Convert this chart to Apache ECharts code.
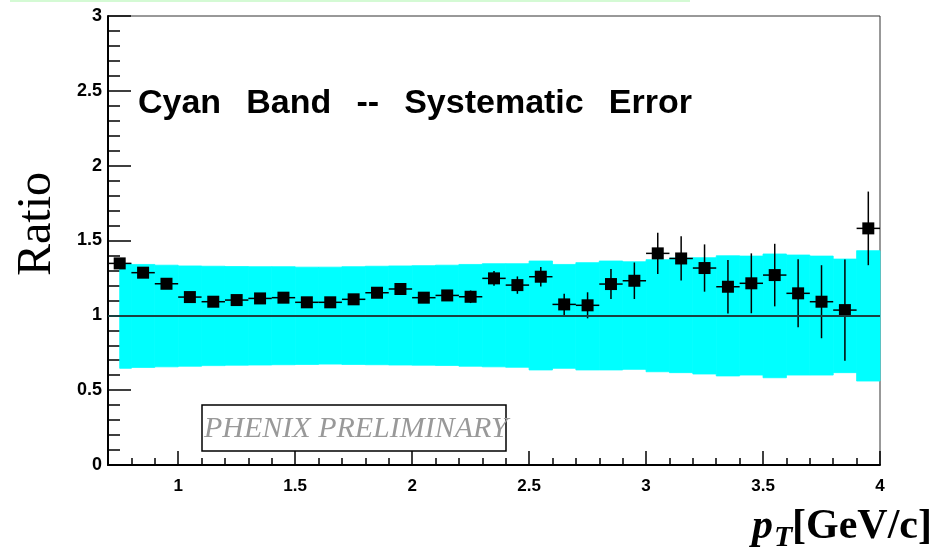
<!DOCTYPE html>
<html>
<head>
<meta charset="utf-8">
<script src="https://cdn.jsdelivr.net/npm/echarts@6/dist/echarts.min.js"></script>
<style>
  html, body { margin: 0; padding: 0; background: #ffffff; }
  #chart { width: 945px; height: 550px; }
</style>
</head>
<body>
<div id="chart"></div>
<script>
// Measured ratio per pT bin (bin centres, GeV/c)
const ptCenters = [0.75, 0.85, 0.95, 1.05, 1.15, 1.25, 1.35, 1.45, 1.55, 1.65, 1.75,
                   1.85, 1.95, 2.05, 2.15, 2.25, 2.35, 2.45, 2.55, 2.65, 2.75, 2.85,
                   2.95, 3.05, 3.15, 3.25, 3.35, 3.45, 3.55, 3.65, 3.75, 3.85, 3.95];
const ratioValues = [1.347, 1.285, 1.211, 1.122, 1.091, 1.102, 1.113, 1.118, 1.087, 1.087, 1.107,
                     1.151, 1.176, 1.118, 1.133, 1.124, 1.247, 1.202, 1.258, 1.073, 1.067, 1.209,
                     1.231, 1.414, 1.380, 1.316, 1.191, 1.214, 1.269, 1.147, 1.091, 1.035, 1.581];
// Statistical errors (vertical bars)
const ratioErrors = [0.020, 0.020, 0.020, 0.020, 0.020, 0.020, 0.020, 0.020, 0.020, 0.020, 0.022,
                     0.024, 0.026, 0.028, 0.032, 0.042, 0.050, 0.058, 0.065, 0.071, 0.087, 0.100,
                     0.122, 0.137, 0.148, 0.158, 0.178, 0.200, 0.209, 0.227, 0.244, 0.338, 0.246];
const binHalfWidth = 0.05;

// Systematic error band: one step per bin between consecutive edges
const bandEdges = [0.75, 0.8, 0.9, 1.0, 1.1, 1.2, 1.3, 1.4, 1.5, 1.6, 1.7, 1.8, 1.9, 2.0,
                   2.1, 2.2, 2.3, 2.4, 2.5, 2.6, 2.7, 2.8, 2.9, 3.0, 3.1, 3.2, 3.3, 3.4,
                   3.5, 3.6, 3.7, 3.8, 3.9, 4.0];
const bandHigh = [1.345, 1.340, 1.335, 1.330, 1.328, 1.326, 1.325, 1.325, 1.322, 1.322, 1.325,
                  1.328, 1.330, 1.332, 1.335, 1.340, 1.345, 1.345, 1.363, 1.340, 1.352, 1.363,
                  1.358, 1.372, 1.383, 1.385, 1.398, 1.396, 1.410, 1.403, 1.396, 1.376, 1.432];
const bandLow  = [0.646, 0.652, 0.656, 0.660, 0.664, 0.667, 0.668, 0.670, 0.672, 0.674, 0.672,
                  0.670, 0.668, 0.667, 0.665, 0.660, 0.656, 0.653, 0.635, 0.646, 0.635, 0.635,
                  0.639, 0.623, 0.617, 0.608, 0.595, 0.601, 0.583, 0.601, 0.601, 0.617, 0.561];

const referenceLevel = 1;

// Axis ticks
const xMajorTicks = [1, 1.5, 2, 2.5, 3, 3.5, 4];
const xMinorTicks = [0.8, 0.9, 1.1, 1.2, 1.3, 1.4, 1.6, 1.7, 1.8, 1.9, 2.1, 2.2, 2.3, 2.4,
                     2.6, 2.7, 2.8, 2.9, 3.1, 3.2, 3.3, 3.4, 3.6, 3.7, 3.8, 3.9];
const xRange = [0.7, 4];
const yRange = [0, 3];
const yInterval = 0.5;

// Caption words, laid out with a wide, even gap between them
const captionWords = ['Cyan', 'Band', '--', 'Systematic', 'Error'];
const captionFont = 'bold 34px "Liberation Sans", Arial, sans-serif';
const captionLeft = 138, captionRight = 692;

const bandData = bandHigh.map((h, i) => [bandEdges[i], bandEdges[i + 1], h, bandLow[i]]);
const errData = ptCenters.map((x, i) => [x, ratioValues[i], ratioErrors[i]]);
const pointData = ptCenters.map((x, i) => [x, ratioValues[i]]);

function layoutCaption() {
  const ctx = document.createElement('canvas').getContext('2d');
  ctx.font = captionFont;
  const widths = captionWords.map(w => ctx.measureText(w).width);
  const total = widths.reduce((a, b) => a + b, 0);
  const gap = (captionRight - captionLeft - total) / (captionWords.length - 1);
  let x = captionLeft;
  return captionWords.map((w, i) => {
    const el = {
      type: 'text', x: x, y: 104,
      style: { text: w, font: captionFont, fill: '#000000', textAlign: 'left', textVerticalAlign: 'middle' },
      z: 20
    };
    x += widths[i] + gap;
    return el;
  });
}

function renderBand(params, api) {
  const p0 = api.coord([api.value(0), api.value(2)]);
  const p1 = api.coord([api.value(1), api.value(3)]);
  return {
    type: 'rect',
    shape: { x: p0[0], y: p0[1], width: p1[0] - p0[0], height: p1[1] - p0[1] },
    style: { fill: '#00ffff', stroke: '#00ffff', lineWidth: 0.8 }
  };
}

function renderErrors(params, api) {
  const x = api.value(0), y = api.value(1), e = api.value(2);
  const top = api.coord([x, y + e]);
  const bot = api.coord([x, y - e]);
  const left = api.coord([x - binHalfWidth, y]);
  const right = api.coord([x + binHalfWidth, y]);
  const st = { stroke: '#000000', lineWidth: 1.5 };
  return {
    type: 'group',
    children: [
      { type: 'line', shape: { x1: top[0], y1: top[1], x2: bot[0], y2: bot[1] }, style: st },
      { type: 'line', shape: { x1: left[0], y1: left[1], x2: right[0], y2: right[1] }, style: st }
    ]
  };
}

const chart = echarts.init(document.getElementById('chart'), null, { renderer: 'canvas' });

const graphics = [
  // thin light-green strip along the top edge of the canvas
  { type: 'rect', left: 10, top: 0, shape: { width: 680, height: 2 }, style: { fill: '#d4fad4' }, z: 0 },
  // preliminary stamp
  { type: 'rect', x: 202, y: 405, shape: { width: 304, height: 46 },
    style: { fill: 'none', stroke: '#000000', lineWidth: 1.5 }, z: 20 },
  { type: 'text', x: 204, y: 429.5,
    style: { text: 'PHENIX PRELIMINARY', font: 'italic 30px "Liberation Serif", "Times New Roman", serif',
             fill: '#999999', textAlign: 'left', textVerticalAlign: 'middle' }, z: 20 },
  // y axis title
  { type: 'text', x: 37, y: 224, rotation: Math.PI / 2,
    style: { text: 'Ratio', font: '48px "Liberation Serif", "Times New Roman", serif',
             fill: '#000000', textAlign: 'center', textVerticalAlign: 'middle' }, z: 20 },
  // x axis title
  { type: 'text', x: 752, y: 527,
    style: { text: 'p', font: 'italic bold 42px "Liberation Serif", "Times New Roman", serif',
             fill: '#000000', textAlign: 'left', textVerticalAlign: 'middle' }, z: 20 },
  { type: 'text', x: 774, y: 538,
    style: { text: 'T', font: 'italic bold 30px "Liberation Serif", "Times New Roman", serif',
             fill: '#000000', textAlign: 'left', textVerticalAlign: 'middle' }, z: 20 },
  { type: 'text', x: 792, y: 527,
    style: { text: '[GeV/c]', font: 'bold 42px "Liberation Serif", "Times New Roman", serif',
             fill: '#000000', textAlign: 'left', textVerticalAlign: 'middle' }, z: 20 }
].concat(layoutCaption());

chart.setOption({
  animation: false,
  backgroundColor: '#ffffff',
  grid: { left: 108, right: 65, top: 16, bottom: 85, show: true,
          borderColor: '#333333', borderWidth: 1, backgroundColor: 'transparent' },
  xAxis: [
    {
      type: 'value', min: xRange[0], max: xRange[1], position: 'bottom',
      axisLine: { show: true, onZero: false, lineStyle: { color: '#000000', width: 2 } },
      axisTick: { show: true, inside: true, length: 14, customValues: xMajorTicks,
                  lineStyle: { color: '#000000', width: 1.5 } },
      axisLabel: { show: true, customValues: xMajorTicks, margin: 13, color: '#000000',
                   fontFamily: '"Liberation Sans", Arial, sans-serif', fontWeight: 'bold', fontSize: 17 },
      splitLine: { show: false }
    },
    {
      type: 'value', min: xRange[0], max: xRange[1], position: 'bottom',
      axisLine: { show: false },
      axisTick: { show: true, inside: true, length: 7, customValues: xMinorTicks,
                  lineStyle: { color: '#000000', width: 1.5 } },
      axisLabel: { show: false },
      splitLine: { show: false }
    }
  ],
  yAxis: {
    type: 'value', min: yRange[0], max: yRange[1], interval: yInterval,
    axisLine: { show: true, onZero: false, lineStyle: { color: '#000000', width: 2 } },
    axisTick: { show: true, inside: true, length: 23, lineStyle: { color: '#000000', width: 1.5 } },
    minorTick: { show: true, splitNumber: 5, length: 12, lineStyle: { color: '#000000', width: 1.5 } },
    axisLabel: { margin: 6, color: '#000000',
                 fontFamily: '"Liberation Sans", Arial, sans-serif', fontWeight: 'bold', fontSize: 18 },
    splitLine: { show: false }
  },
  series: [
    {
      type: 'custom', name: 'Systematic', xAxisIndex: 0, yAxisIndex: 0,
      renderItem: renderBand, data: bandData, encode: { x: [0, 1], y: [2, 3] }, z: 1,
      silent: true,
      markLine: {
        silent: true, symbol: 'none', label: { show: false },
        lineStyle: { color: '#1a4040', width: 1.8, type: 'solid' },
        data: [{ yAxis: referenceLevel }]
      }
    },
    {
      type: 'custom', name: 'Errors', xAxisIndex: 0, yAxisIndex: 0,
      renderItem: renderErrors, data: errData, encode: { x: 0, y: 1 }, z: 3, silent: true
    },
    {
      type: 'scatter', name: 'Ratio', xAxisIndex: 0, yAxisIndex: 0,
      data: pointData, symbol: 'rect', symbolSize: 12,
      itemStyle: { color: '#000000', opacity: 1 }, z: 4, silent: true
    }
  ],
  graphic: graphics
});
</script>
</body>
</html>
